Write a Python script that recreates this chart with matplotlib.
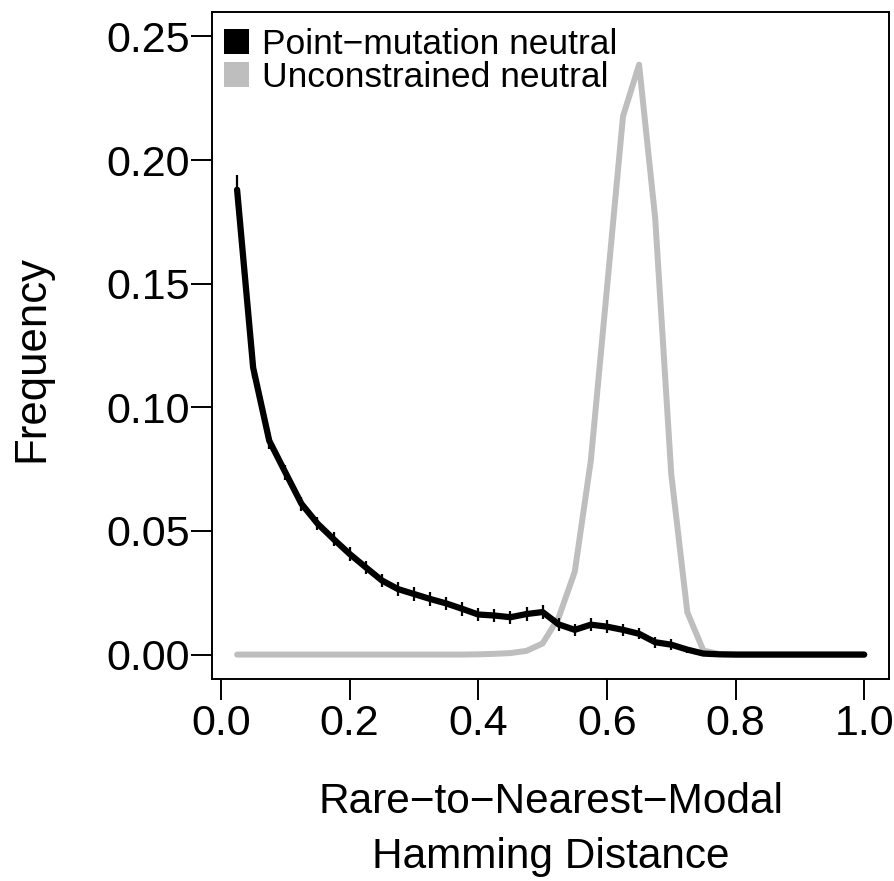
import matplotlib
matplotlib.use("Agg")
import matplotlib.pyplot as plt
from matplotlib.patches import Patch

plt.rcParams['font.family'] = ['Liberation Sans', 'DejaVu Sans']

distance = [0.025, 0.05, 0.075, 0.1, 0.125, 0.15, 0.175, 0.2, 0.225, 0.25,
            0.275, 0.3, 0.325, 0.35, 0.375, 0.4, 0.425, 0.45, 0.475, 0.5,
            0.525, 0.55, 0.575, 0.6, 0.625, 0.65, 0.675, 0.7, 0.725, 0.75,
            0.775, 0.8, 0.825, 0.85, 0.875, 0.9, 0.925, 0.95, 0.975, 1.0]

point_mutation = [0.188, 0.116, 0.0865, 0.0737, 0.061, 0.053, 0.0467, 0.0407, 0.0353, 0.0300,
                  0.0265, 0.0245, 0.0225, 0.0207, 0.0185, 0.0162, 0.0158, 0.0151, 0.0164, 0.0172,
                  0.0122, 0.0100, 0.0121, 0.0113, 0.0100, 0.0084, 0.0050, 0.0040, 0.0020, 0.0004,
                  0.0001, 0.0, 0.0, 0.0, 0.0, 0.0, 0.0, 0.0, 0.0, 0.0]

point_mutation_err = [0.006, 0.004, 0.0035, 0.003, 0.0029, 0.0028, 0.0028, 0.0027, 0.0027, 0.0027,
                      0.0027, 0.0027, 0.0027, 0.0027, 0.0027, 0.0027, 0.0027, 0.0027, 0.0027, 0.0027,
                      0.0026, 0.0025, 0.0025, 0.0025, 0.0024, 0.0023, 0.0022, 0.0021, 0.0012, 0.0008,
                      0.0003, 0.0, 0.0, 0.0, 0.0, 0.0, 0.0, 0.0, 0.0, 0.0]

unconstrained = [0.0, 0.0, 0.0, 0.0, 0.0, 0.0, 0.0, 0.0, 0.0, 0.0,
                 0.0, 0.0, 0.0, 0.0, 0.0, 0.0001, 0.0003, 0.0006, 0.0015, 0.0045,
                 0.015, 0.0335, 0.0785, 0.148, 0.2177, 0.2386, 0.1766, 0.073, 0.0171, 0.0016,
                 0.0002, 0.0, 0.0, 0.0, 0.0, 0.0, 0.0, 0.0, 0.0, 0.0]

x_ticks = [0.0, 0.2, 0.4, 0.6, 0.8, 1.0]
x_tick_labels = ["0.0", "0.2", "0.4", "0.6", "0.8", "1.0"]
y_ticks = [0.00, 0.05, 0.10, 0.15, 0.20, 0.25]
y_tick_labels = ["0.00", "0.05", "0.10", "0.15", "0.20", "0.25"]
series_labels = ["Point\u2212mutation neutral", "Unconstrained neutral"]

BLACK = "#000000"
GRAY = "#BEBEBE"

fig = plt.figure(figsize=(8.95, 8.81), dpi=100)
ax = fig.add_axes([0.23687, 0.22894, 0.75676, 0.75778])

ax.plot(distance, unconstrained, color=GRAY, lw=4.3, solid_capstyle='round',
        solid_joinstyle='round', zorder=2)
ax.errorbar(distance, point_mutation, yerr=point_mutation_err, fmt='none',
            ecolor=BLACK, elinewidth=1.6, capsize=0, zorder=3)
ax.plot(distance, point_mutation, color=BLACK, lw=4.5, solid_capstyle='round',
        solid_joinstyle='round', zorder=4)

ax.set_xlim(-0.014, 1.039)
ax.set_ylim(-0.01, 0.26)
ax.set_xticks(x_ticks)
ax.set_xticklabels(x_tick_labels)
ax.set_yticks(y_ticks)
ax.set_yticklabels(y_tick_labels)
ax.tick_params(axis='both', direction='out', length=15, width=1.4,
               labelsize=31, color=BLACK)
ax.tick_params(axis='x', pad=3)
ax.tick_params(axis='y', pad=1)
for sp in ax.spines.values():
    sp.set_linewidth(1.4)
    sp.set_color(BLACK)

fig.text(32 / 895, 1 - 359 / 881, "Frequency", rotation=90, ha='center',
         va='center', fontsize=31.5)
fig.text(550.6 / 895, 1 - 802 / 881, "Rare\u2212to\u2212Nearest\u2212Modal",
         ha='center', va='center', fontsize=30.5)
fig.text(550.6 / 895, 1 - 857 / 881, "Hamming Distance",
         ha='center', va='center', fontsize=30.5)

handles = [Patch(facecolor=BLACK, edgecolor='none'),
           Patch(facecolor=GRAY, edgecolor='none')]
ax.legend(handles, series_labels, loc='upper left',
          bbox_to_anchor=(0.0177, 0.976), frameon=False, fontsize=25.5,
          handlelength=0.71, handleheight=0.71, handletextpad=0.37,
          labelspacing=0.0, borderpad=0, borderaxespad=0)

fig.savefig("out.png", dpi=100)
